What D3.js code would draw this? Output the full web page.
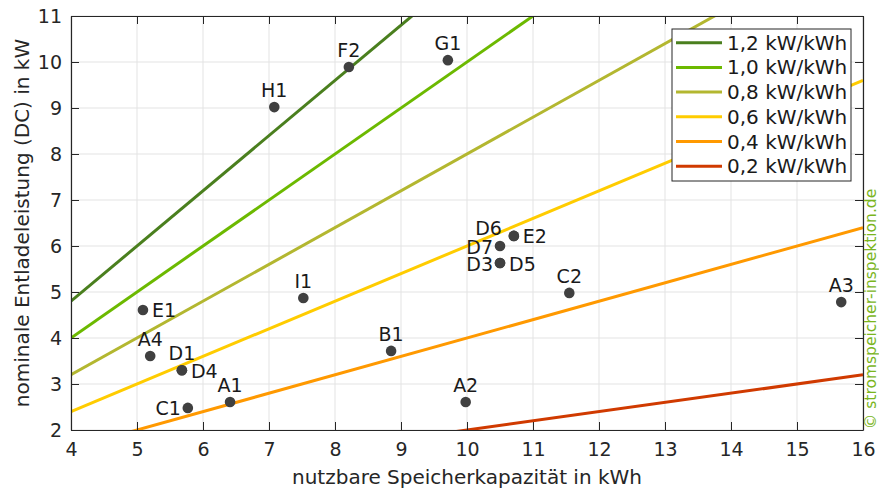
<!DOCTYPE html>
<html>
<head>
<meta charset="utf-8">
<script src="https://cdn.jsdelivr.net/npm/d3@7"></script>
<style>
  body { margin: 0; background: #fff; }
  svg text { font-family: "DejaVu Sans", Verdana, sans-serif; }
</style>
</head>
<body>
<div id="chart"></div>
<script>
// data
const names = ["F2", "G1", "H1", "E1", "I1", "D6", "E2", "D7", "D3", "D5", "C2", "A3", "B1", "A4", "D1", "D4", "A1", "C1", "A2"];
const capacity = [8.21, 9.71, 7.08, 5.09, 7.52, 10.71, 10.71, 10.5, 10.5, 10.5, 11.55, 15.67, 8.85, 5.2, 5.68, 5.68, 6.41, 5.77, 9.98];
const power = [9.89, 10.04, 9.02, 4.61, 4.87, 6.22, 6.22, 6.0, 5.63, 5.63, 4.98, 4.78, 3.72, 3.61, 3.3, 3.3, 2.61, 2.48, 2.61];
const ratios = [1.2, 1.0, 0.8, 0.6, 0.4, 0.2];
const ratioLabels = ["1,2 kW/kWh", "1,0 kW/kWh", "0,8 kW/kWh", "0,6 kW/kWh", "0,4 kW/kWh", "0,2 kW/kWh"];
const xTicks = [4, 5, 6, 7, 8, 9, 10, 11, 12, 13, 14, 15, 16];
const yTicks = [2, 3, 4, 5, 6, 7, 8, 9, 10, 11];

const lineColors = ["#4a7f1e", "#6cb900", "#b3b730", "#ffcc00", "#ff9900", "#d03a00"];
const fs = "19px";

// where each label sits relative to its point
const labelPlace = {
  F2: ["middle", 0, -10], G1: ["middle", 0, -10], H1: ["middle", 0, -10],
  E1: ["start", 9, 7], I1: ["middle", 0, -10], D6: ["end", -12, -1],
  E2: ["start", 9, 7], D7: ["end", -7, 8], D3: ["end", -7, 8],
  D5: ["start", 9, 8], C2: ["middle", 0, -10], A3: ["middle", 0, -10],
  B1: ["middle", 0, -10], A4: ["middle", 0, -10], D1: ["middle", 0, -10],
  D4: ["start", 9, 8], A1: ["middle", 0, -10], C1: ["end", -7, 7],
  A2: ["middle", 0, -10]
};

const width = 879;
const height = 489;
const margin = { top: 16, right: 16, bottom: 59, left: 71 };
const innerW = width - margin.left - margin.right;
const innerH = height - margin.top - margin.bottom;

const svg = d3.select("#chart")
  .append("svg")
  .attr("width", width)
  .attr("height", height);

const g = svg.append("g")
  .attr("transform", "translate(" + margin.left + "," + margin.top + ")");

const x = d3.scaleLinear().domain([4, 16]).range([0, innerW]);
const y = d3.scaleLinear().domain([2, 11]).range([innerH, 0]);

// grid
g.append("g")
  .selectAll("line")
  .data(xTicks)
  .enter()
  .append("line")
  .attr("x1", d => x(d)).attr("x2", d => x(d))
  .attr("y1", 0).attr("y2", innerH)
  .attr("stroke", "#e3e3e3");

g.append("g")
  .selectAll("line")
  .data(yTicks)
  .enter()
  .append("line")
  .attr("y1", d => y(d)).attr("y2", d => y(d))
  .attr("x1", 0).attr("x2", innerW)
  .attr("stroke", "#e3e3e3");

// ratio lines, clipped to the plot box
svg.append("clipPath").attr("id", "plotclip")
  .append("rect").attr("width", innerW).attr("height", innerH);

const line = d3.line().x(d => x(d[0])).y(d => y(d[1]));

g.append("g")
  .attr("clip-path", "url(#plotclip)")
  .selectAll("path")
  .data(ratios)
  .enter()
  .append("path")
  .attr("d", k => line([[4, 4 * k], [16, 16 * k]]))
  .attr("fill", "none")
  .attr("stroke", (k, i) => lineColors[i])
  .attr("stroke-width", 3);

// axes (ticks inside, box on all sides)
function styleAxis(sel, noText) {
  sel.select(".domain").attr("stroke", "#262626").attr("stroke-width", 1.2);
  sel.selectAll(".tick line").attr("stroke", "#262626");
  sel.selectAll(".tick text")
    .attr("fill", "#262626")
    .style("font-size", fs)
    .style("font-family", "'DejaVu Sans', sans-serif");
  if (noText) sel.selectAll(".tick text").remove();
}

g.append("g")
  .attr("transform", "translate(0," + innerH + ")")
  .call(d3.axisBottom(x).tickValues(xTicks).tickSizeInner(-8).tickSizeOuter(0).tickPadding(13))
  .call(s => styleAxis(s));

g.append("g")
  .call(d3.axisLeft(y).tickValues(yTicks).tickSizeInner(-8).tickSizeOuter(0).tickPadding(9))
  .call(s => styleAxis(s));

g.append("g")
  .call(d3.axisTop(x).tickValues(xTicks).tickSizeInner(-8).tickSizeOuter(0))
  .call(s => styleAxis(s, true));

g.append("g")
  .attr("transform", "translate(" + innerW + ",0)")
  .call(d3.axisRight(y).tickValues(yTicks).tickSizeInner(-8).tickSizeOuter(0))
  .call(s => styleAxis(s, true));

// axis titles
svg.append("text")
  .attr("x", margin.left + innerW / 2)
  .attr("y", 484)
  .attr("text-anchor", "middle")
  .style("font-size", "20px")
  .attr("fill", "#262626")
  .text("nutzbare Speicherkapazität in kWh");

svg.append("text")
  .attr("transform", "translate(29," + (margin.top + innerH / 2) + ") rotate(-90)")
  .attr("text-anchor", "middle")
  .style("font-size", "20px")
  .attr("fill", "#262626")
  .text("nominale Entladeleistung (DC) in kW");

// points
const points = names.map((n, i) => ({ name: n, x: capacity[i], y: power[i] }));

g.append("g")
  .selectAll("circle")
  .data(points)
  .enter()
  .append("circle")
  .attr("cx", d => x(d.x))
  .attr("cy", d => y(d.y))
  .attr("r", 5.3)
  .attr("fill", "#404040");

g.append("g")
  .selectAll("text")
  .data(points)
  .enter()
  .append("text")
  .attr("x", d => x(d.x) + labelPlace[d.name][1])
  .attr("y", d => y(d.y) + labelPlace[d.name][2])
  .attr("text-anchor", d => labelPlace[d.name][0])
  .style("font-size", fs)
  .attr("fill", "#1a1a1a")
  .text(d => d.name);

// legend
const legend = svg.append("g").attr("transform", "translate(672,29)");
legend.append("rect")
  .attr("width", 179).attr("height", 152)
  .attr("fill", "#fff")
  .attr("stroke", "#262626")
  .attr("stroke-width", 1);

const rows = legend.selectAll("g.row")
  .data(ratioLabels)
  .enter()
  .append("g")
  .attr("class", "row")
  .attr("transform", (d, i) => "translate(0," + (13.7 + i * 24.7) + ")");

rows.append("line")
  .attr("x1", 4).attr("x2", 50)
  .attr("stroke", (d, i) => lineColors[i])
  .attr("stroke-width", 3);

rows.append("text")
  .attr("x", 55)
  .attr("y", 7)
  .style("font-size", "20px")
  .attr("fill", "#1a1a1a")
  .text(d => d);

// watermark
svg.append("text")
  .attr("transform", "translate(876,309) rotate(-90)")
  .attr("text-anchor", "middle")
  .style("font-size", "15.5px")
  .attr("fill", "#7ab51d")
  .text("© stromspeicher-inspektion.de");
</script>
</body>
</html>
